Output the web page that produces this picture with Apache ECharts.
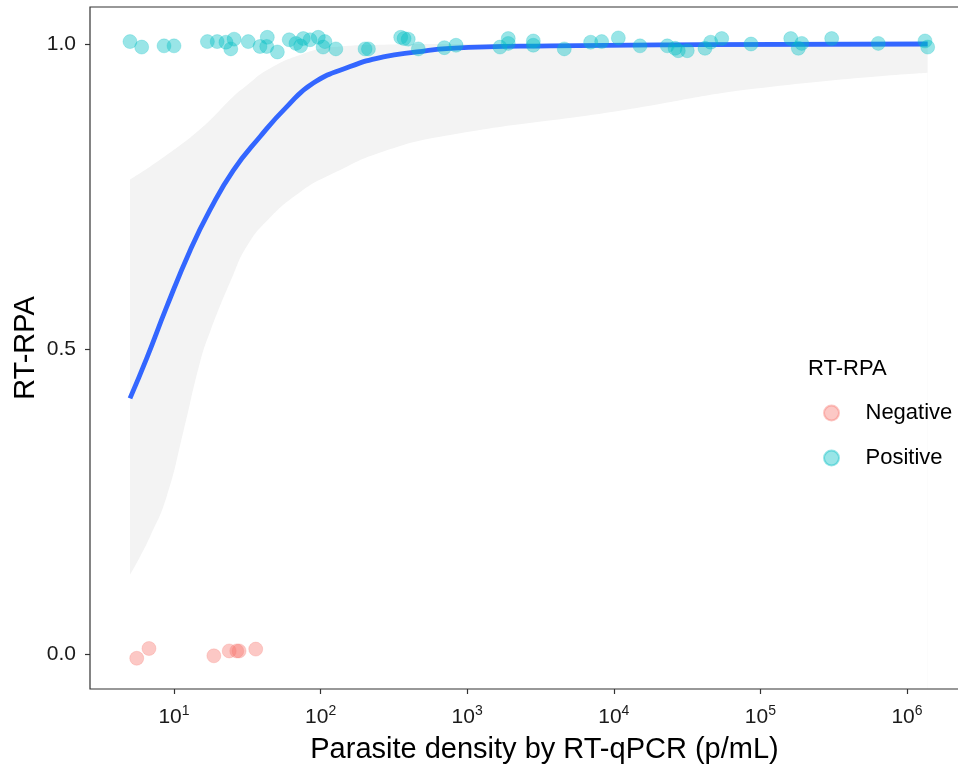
<!DOCTYPE html>
<html>
<head>
<meta charset="utf-8">
<script src="https://cdn.jsdelivr.net/npm/echarts@6/dist/echarts.min.js"></script>
<style>
html, body { margin: 0; padding: 0; background: #fff; }
#main { width: 958px; height: 765px; }
</style>
</head>
<body>
<div id="main"></div>
<script>
// RT-RPA result vs parasite density (log x)
var posDensity = [5.01, 6.02, 8.55, 10.0, 16.9, 19.7, 22.6, 24.4, 25.7, 32.1, 38.6, 43.3, 42.9, 50.7,
  61.1, 67.9, 73.1, 76.2, 84.7, 96.4, 107, 104, 127, 201, 212, 352, 371, 396, 464, 698, 839,
  1675, 1906, 1906, 2825, 2825, 4595, 6955, 8265, 10740, 15100, 23170, 26180, 27540, 31700,
  41880, 45800, 54480, 86300, 161100, 181500, 191400, 306400, 637000, 1327000, 1384000];
var posValue = [1.004, 0.995, 0.997, 0.997, 1.004, 1.004, 1.003, 0.992, 1.008, 1.004, 0.996, 1.011, 0.996, 0.987,
  1.007, 1.001, 0.997, 1.009, 1.007, 1.011, 1.004, 0.995, 0.992, 0.992, 0.992, 1.011, 1.009, 1.008, 0.992, 0.994, 0.998,
  0.995, 1.009, 1.001, 1.005, 0.998, 0.992, 1.003, 1.004, 1.010, 0.997, 0.997, 0.993, 0.989, 0.989,
  0.993, 1.003, 1.009, 1.000, 1.009, 0.993, 1.001, 1.009, 1.001, 1.005, 0.995];

var negDensity = [5.57, 6.75, 18.7, 23.8, 26.8, 27.8, 36.1];
var negValue = [-0.007, 0.009, -0.003, 0.005, 0.005, 0.005, 0.008];

// fitted logistic curve
var fitDensity = [5.01, 6.52, 8.91, 12.9, 17.6, 25.4, 38.6, 58.7, 89.2, 159, 268, 453, 764, 3670, 38700, 1384000];
var fitProb = [0.419, 0.485, 0.569, 0.662, 0.728, 0.793, 0.848, 0.897, 0.936, 0.963, 0.979, 0.987, 0.993, 0.997, 0.999, 1.0];

// confidence band
var bandDensity = [5.01, 6.85, 8.91, 11.6, 15.0, 17.6, 25.4, 31.3, 42.9, 72.3, 122, 268, 764, 9950, 93300, 1384000];
var bandUpper = [0.778, 0.799, 0.818, 0.838, 0.860, 0.875, 0.914, 0.932, 0.957, 0.982, 0.995, 0.999, 1.0, 1.0, 1.0, 1.0];
var bandLower = [0.130, 0.192, 0.258, 0.365, 0.477, 0.528, 0.622, 0.668, 0.710, 0.757, 0.788, 0.824, 0.851, 0.889, 0.927, 0.953];

var xTicks = [10, 100, 1000, 10000, 100000, 1000000];
var yTicks = [0, 0.5, 1];

function pairs(xs, ys) {
  var out = [];
  for (var i = 0; i < xs.length; i++) out.push([xs[i], ys[i]]);
  return out;
}

var font = 'Liberation Sans, Arial, sans-serif';
var chart = echarts.init(document.getElementById('main'));

var option = {
  animation: false,
  title: {
    text: 'RT-RPA',
    left: 803,
    top: 353,
    textStyle: { fontFamily: font, fontSize: 22, fontWeight: 'normal', color: '#000' }
  },
  legend: {
    data: ['Negative', 'Positive'],
    orient: 'vertical',
    left: 818,
    top: 397,
    itemWidth: 58,
    itemHeight: 15,
    itemGap: 23,
    icon: 'circle',
    textStyle: { fontFamily: font, fontSize: 22, color: '#000' }
  },
  grid: {
    left: 90,
    top: 7,
    width: 909,
    height: 682,
    outerBoundsMode: 'none',
    containLabel: false,
    show: true,
    borderColor: '#333',
    borderWidth: 1.2,
    backgroundColor: 'transparent'
  },
  xAxis: {
    type: 'log',
    logBase: 10,
    min: 2.673,
    max: 4243000,
    name: 'Parasite density by RT-qPCR (p/mL)',
    nameLocation: 'middle',
    nameGap: 46,
    nameMoveOverlap: false,
    nameTextStyle: { fontFamily: font, fontSize: 29, color: '#000' },
    axisLine: { show: false, onZero: false },
    axisTick: { show: true, length: 5, customValues: xTicks, lineStyle: { color: '#333', width: 1.2 } },
    axisLabel: {
      customValues: xTicks,
      margin: 15,
      formatter: function (v) {
        var n = Math.round(Math.log10(v));
        return '{b|10}{s|' + n + '}';
      },
      rich: {
        b: { fontFamily: font, fontSize: 21, color: '#1a1a1a', lineHeight: 24, verticalAlign: 'bottom' },
        s: { fontFamily: font, fontSize: 14, color: '#1a1a1a', verticalAlign: 'top', lineHeight: 24 }
      }
    },
    splitLine: { show: false },
    minorTick: { show: false }
  },
  yAxis: {
    type: 'value',
    min: -0.0574,
    max: 1.0607,
    name: 'RT-RPA',
    nameLocation: 'middle',
    nameGap: 50,
    nameMoveOverlap: false,
    nameTextStyle: { fontFamily: font, fontSize: 29, color: '#000' },
    axisLine: { show: false, onZero: false },
    axisTick: { show: true, length: 5, customValues: yTicks, lineStyle: { color: '#333', width: 1.2 } },
    axisLabel: {
      customValues: yTicks,
      margin: 14,
      fontFamily: font,
      fontSize: 21,
      color: '#1a1a1a',
      formatter: function (v) { return v.toFixed(1); }
    },
    splitLine: { show: false }
  },
  series: [
    {
      // grey band filled down to the axis, then covered below the lower edge
      name: 'bandUpper',
      type: 'line',
      data: pairs(bandDensity, bandUpper),
      smooth: true,
      symbol: 'none',
      lineStyle: { opacity: 0 },
      areaStyle: { color: '#f3f3f3', opacity: 1, origin: 'start' },
      silent: true,
      z: -2
    },
    {
      name: 'bandLower',
      type: 'line',
      data: pairs(bandDensity, bandLower),
      smooth: true,
      symbol: 'none',
      lineStyle: { opacity: 0 },
      areaStyle: { color: '#ffffff', opacity: 1, origin: 'start' },
      silent: true,
      z: -1
    },
    {
      name: 'fit',
      type: 'line',
      data: pairs(fitDensity, fitProb),
      smooth: true,
      symbol: 'none',
      lineStyle: { color: '#3366ff', width: 4.8 },
      z: 2
    },
    {
      name: 'Negative',
      type: 'scatter',
      data: pairs(negDensity, negValue),
      symbolSize: 14,
      itemStyle: { color: 'rgba(248,118,109,0.5)', borderColor: 'rgba(248,118,109,0.5)', borderWidth: 0.6 },
      z: 3
    },
    {
      name: 'Positive',
      type: 'scatter',
      data: pairs(posDensity, posValue),
      symbolSize: 14,
      itemStyle: { color: 'rgba(0,191,196,0.5)', borderColor: 'rgba(0,191,196,0.5)', borderWidth: 0.6 },
      z: 3
    }
  ]
};

chart.setOption(option);
</script>
</body>
</html>
